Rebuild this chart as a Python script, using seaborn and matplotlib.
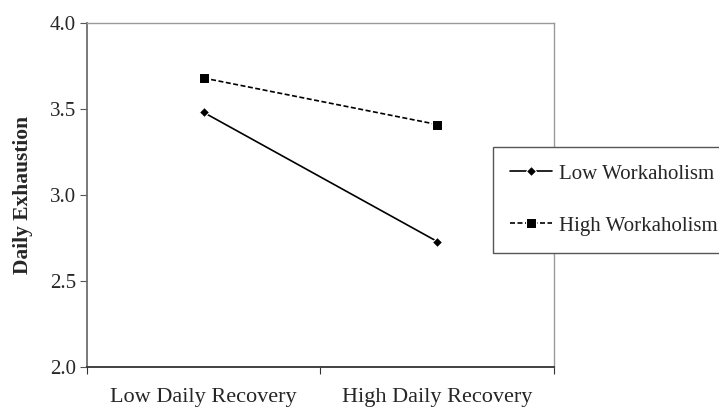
import numpy as np
import pandas as pd
import matplotlib
matplotlib.use("Agg")
import matplotlib.pyplot as plt
import seaborn as sns

# データ
recovery = ["Low Daily Recovery", "High Daily Recovery"]
low_workaholism = [3.48, 2.73]
high_workaholism = [3.68, 3.41]
groups = ["Low Workaholism", "High Workaholism"]

df = pd.DataFrame({
    "x": [0, 1, 0, 1],
    "y": low_workaholism + high_workaholism,
    "group": [groups[0]] * 2 + [groups[1]] * 2,
})

sns.set_style("white")
plt.rcParams["font.family"] = ["Liberation Serif", "DejaVu Serif"]

fig = plt.figure(figsize=(7.19, 4.07), dpi=100)
ax = fig.add_axes([0.121, 0.098, 0.6495, 0.8455])

sns.lineplot(
    data=df, x="x", y="y", style="group", hue="group",
    palette={groups[0]: "black", groups[1]: "black"},
    markers={groups[0]: "D", groups[1]: "s"},
    dashes={groups[0]: "", groups[1]: (3, 1.5)},
    markersize=6, linewidth=1.2, ax=ax, legend=True,
)
for line in ax.lines:
    if line.get_marker() == "D":
        line.set_markersize(5)
    elif line.get_marker() == "s":
        line.set_markersize(6.5)

ax.set_xlim(-0.5, 1.5)
ax.set_ylim(2.0, 4.0)
ax.set_yticks(np.arange(2.0, 4.01, 0.5))
ax.set_yticklabels([f"{v:.1f}" for v in np.arange(2.0, 4.01, 0.5)], fontsize=15)

# 主目盛はカテゴリ境界、ラベルは副目盛で中央に
ax.set_xticks([-0.5, 0.5, 1.5])
ax.set_xticklabels([])
ax.set_xticks([0, 1], minor=True)
ax.set_xticklabels(recovery, minor=True, fontsize=16)
ax.tick_params(axis="x", which="minor", length=0, pad=15)
ax.tick_params(axis="x", which="major", length=5, direction="out", color="#333333")
ax.tick_params(axis="y", length=5, direction="out", color="#555555", pad=3)
ax.tick_params(bottom=True, left=True)

ax.set_xlabel("")
ax.set_ylabel("Daily Exhaustion", fontsize=15.5, fontweight="bold")
ax.yaxis.set_label_coords(-0.116, 0.5)

for side in ["top", "right"]:
    ax.spines[side].set_color("#9a9a9a")
    ax.spines[side].set_linewidth(1.0)
ax.spines["left"].set_color("#6e6e6e")
ax.spines["left"].set_linewidth(1.3)
ax.spines["bottom"].set_color("#333333")
ax.spines["bottom"].set_linewidth(1.3)

handles, labels = ax.get_legend_handles_labels()
ax.legend(
    handles, labels,
    loc="upper left", bbox_to_anchor=(493 / 719, 1 - 147 / 407),
    bbox_transform=fig.transFigure,
    frameon=True, fancybox=False, edgecolor="#555555", framealpha=1,
    fontsize=15, handlelength=2.0, handletextpad=0.35,
    labelspacing=1.55, borderpad=0.82, borderaxespad=0,
)
ax.get_legend().get_frame().set_linewidth(1.0)

fig.savefig("out.png", dpi=100)
